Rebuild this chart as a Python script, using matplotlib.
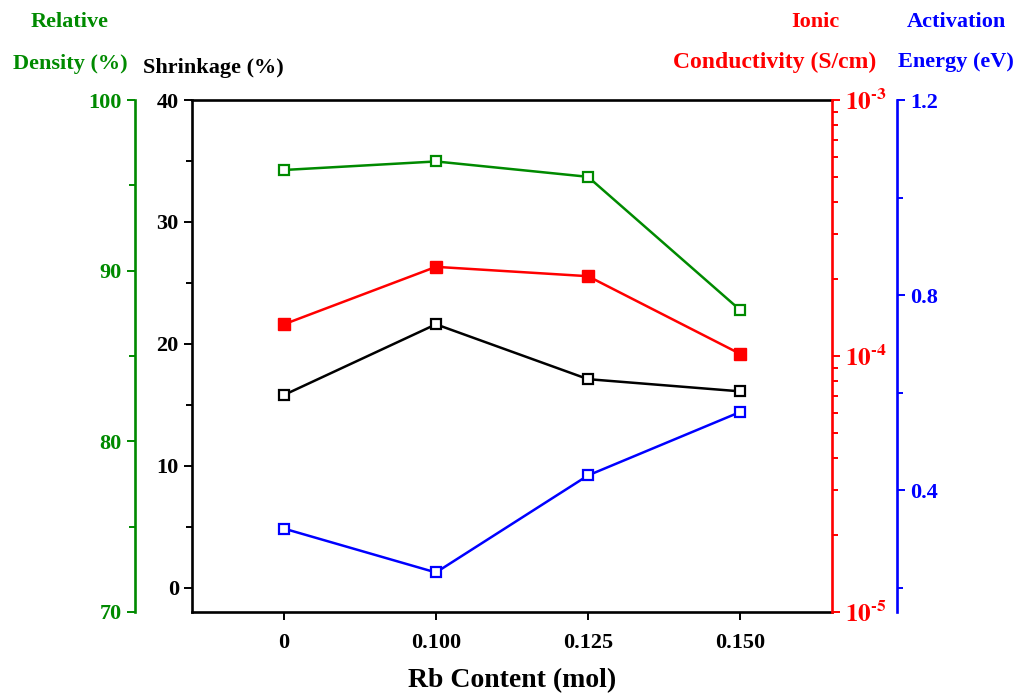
import matplotlib
matplotlib.use("Agg")
import matplotlib.pyplot as plt
from matplotlib.ticker import FixedLocator, LogLocator, NullFormatter, FuncFormatter
import numpy as np

plt.rcParams['font.family'] = ['Liberation Serif', 'DejaVu Serif']
plt.rcParams['font.weight'] = 'bold'
plt.rcParams['mathtext.fontset'] = 'stix'

# data
rb_labels = ["0", "0.100", "0.125", "0.150"]
shrinkage = [15.8, 21.6, 17.1, 16.1]
rel_density = [95.9, 96.4, 95.5, 87.7]
ionic_cond = [1.33e-4, 2.23e-4, 2.05e-4, 1.02e-4]
act_energy = [0.321, 0.231, 0.430, 0.560]

GREEN = "#008a00"
RED = "#ff0000"
BLUE = "#0000ff"
FS = 16

x = np.arange(len(rb_labels))

fig = plt.figure(figsize=(10.14, 6.97), dpi=100)
ax = fig.add_axes([0.1893, 0.122, 0.6312, 0.7345])

# shrinkage on the main axis
ax.plot(x, shrinkage, color="black", lw=1.8, marker="s", ms=7.5, mfc="white", mec="black", mew=1.6, zorder=5)
ax.set_xlim(-0.605, 3.605)
ax.set_ylim(-2, 40)
ax.set_xticks(x)
ax.set_xticklabels(rb_labels)
ax.yaxis.set_major_locator(FixedLocator([0, 10, 20, 30, 40]))
ax.yaxis.set_minor_locator(FixedLocator([5, 15, 25, 35]))
ax.tick_params(axis="both", which="major", direction="out", length=6, width=1.4, labelsize=FS)
ax.tick_params(axis="y", which="minor", direction="out", length=4, width=1.4)
ax.tick_params(axis="x", which="major", pad=9)
for s in ["left", "top", "bottom"]:
    ax.spines[s].set_linewidth(1.9)
ax.spines["right"].set_visible(False)
ax.set_xlabel("Rb Content (mol)", fontsize=20, fontweight="bold", labelpad=11)

# relative density (green, offset left)
ax_g = ax.twinx()
ax_g.yaxis.set_label_position("left")
ax_g.yaxis.tick_left()
ax_g.spines["left"].set_position(("axes", -0.089))
ax_g.spines["left"].set_color(GREEN)
ax_g.spines["left"].set_linewidth(1.9)
for s in ["right", "top", "bottom"]:
    ax_g.spines[s].set_visible(False)
ax_g.plot(x, rel_density, color=GREEN, lw=1.8, marker="s", ms=7.5, mfc="white", mec=GREEN, mew=1.6, zorder=5)
ax_g.set_ylim(70, 100)
ax_g.yaxis.set_major_locator(FixedLocator([70, 80, 90, 100]))
ax_g.yaxis.set_minor_locator(FixedLocator([75, 85, 95]))
ax_g.tick_params(axis="y", which="major", colors=GREEN, length=6, width=1.4, labelsize=FS)
ax_g.tick_params(axis="y", which="minor", colors=GREEN, length=4, width=1.4)

# ionic conductivity (red, log)
ax_r = ax.twinx()
ax_r.set_yscale("log")
ax_r.set_ylim(1e-5, 1e-3)
for s in ["left", "top", "bottom"]:
    ax_r.spines[s].set_visible(False)
ax_r.spines["right"].set_color(RED)
ax_r.spines["right"].set_linewidth(1.9)
ax_r.plot(x, ionic_cond, color=RED, lw=1.8, marker="s", ms=8.5, mfc=RED, mec=RED, zorder=5)
ax_r.yaxis.set_major_locator(LogLocator(base=10, numticks=5))
ax_r.yaxis.set_minor_locator(LogLocator(base=10, subs=np.arange(2, 10), numticks=10))
ax_r.yaxis.set_minor_formatter(NullFormatter())
ax_r.yaxis.set_major_formatter(FuncFormatter(lambda v, p: r"$\mathbf{10^{\text{-}%d}}$" % abs(int(round(np.log10(v))))))
ax_r.tick_params(axis="y", which="major", colors=RED, length=6, width=1.4, labelsize=FS + 2)
ax_r.tick_params(axis="y", which="minor", colors=RED, length=4, width=1.4)

# activation energy (blue, offset right)
ax_b = ax.twinx()
ax_b.spines["right"].set_position(("axes", 1.1016))
ax_b.spines["right"].set_color(BLUE)
ax_b.spines["right"].set_linewidth(1.9)
for s in ["left", "top", "bottom"]:
    ax_b.spines[s].set_visible(False)
ax_b.plot(x, act_energy, color=BLUE, lw=1.8, marker="s", ms=7.5, mfc="white", mec=BLUE, mew=1.6, zorder=5)
ax_b.set_ylim(0.15, 1.2)
ax_b.yaxis.set_major_locator(FixedLocator([0.4, 0.8, 1.2]))
ax_b.yaxis.set_minor_locator(FixedLocator([0.2, 0.6, 1.0]))
ax_b.yaxis.set_major_formatter(FuncFormatter(lambda v, p: "%.1f" % v))
ax_b.tick_params(axis="y", which="major", colors=BLUE, length=6, width=1.4, labelsize=FS)
ax_b.tick_params(axis="y", which="minor", colors=BLUE, length=4, width=1.4)

# headers above the axes
hdr = dict(fontsize=16, fontweight="bold", ha="center", va="center")
fig.text(70 / 1014, 1 - 22 / 697, "Relative", color=GREEN, **hdr)
fig.text(70 / 1014, 1 - 64 / 697, "Density (%)", color=GREEN, **hdr)
fig.text(213 / 1014, 1 - 68 / 697, "Shrinkage (%)", color="black", **hdr)
fig.text(815 / 1014, 1 - 22 / 697, "Ionic", color=RED, **hdr)
fig.text(775 / 1014, 1 - 62 / 697, "Conductivity (S/cm)", color=RED, fontsize=17,
         fontweight="bold", ha="center", va="center")
fig.text(956 / 1014, 1 - 22 / 697, "Activation", color=BLUE, **hdr)
fig.text(956 / 1014, 1 - 62 / 697, "Energy (eV)", color=BLUE, **hdr)

fig.savefig("out.png", dpi=100)
